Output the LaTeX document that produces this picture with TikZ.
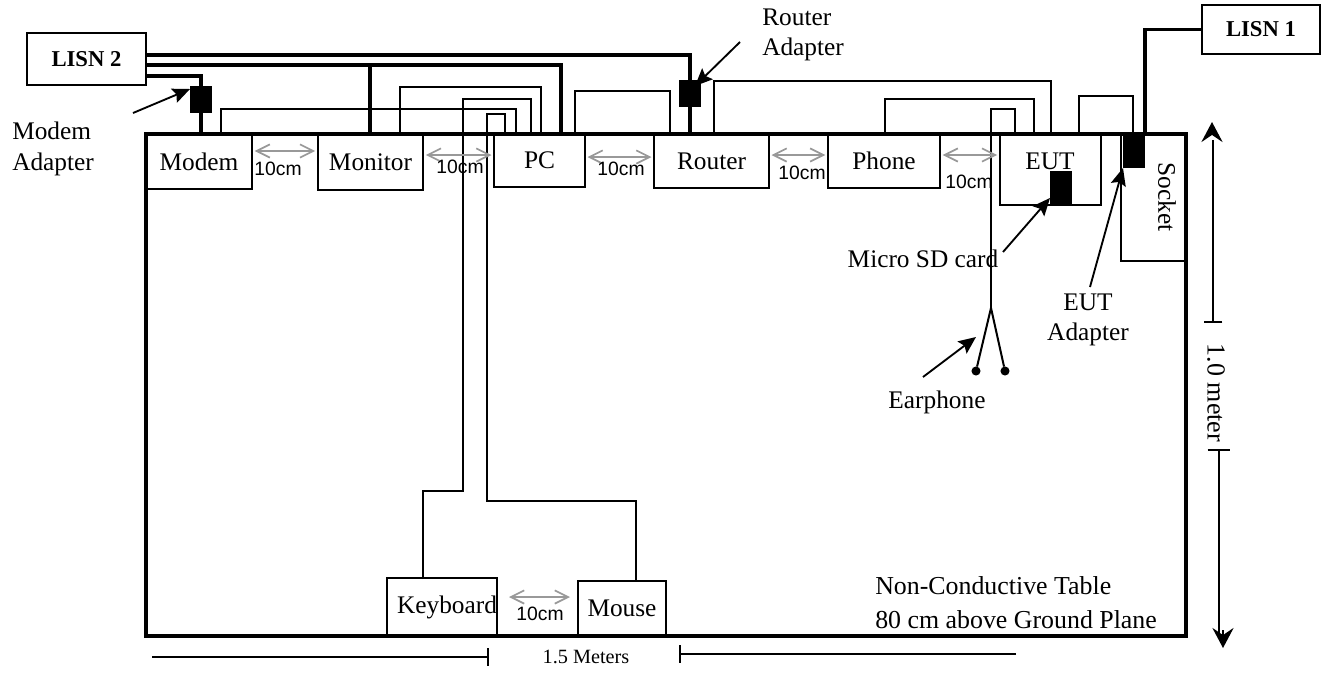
\documentclass[tikz,border=0pt]{standalone}
\usepackage{fontspec}
\setmainfont{Liberation Serif}
\setsansfont{Liberation Sans}
\usetikzlibrary{arrows.meta, positioning, calc}

\begin{document}
\begin{tikzpicture}[x=0.75pt, y=-0.75pt,
    box/.style={draw, line width=1.5pt, inner sep=0pt, outer sep=0pt, font=\fontsize{19}{19}\selectfont},
    lisn/.style={draw, line width=1.5pt, inner sep=0pt, outer sep=0pt, minimum width=89pt, font=\bfseries\fontsize{17}{17}\selectfont},
    adapter/.style={fill=black, inner sep=0pt, outer sep=0pt, minimum width=16.5pt},
    bud/.style={circle, fill=black, inner sep=0pt, outer sep=0pt, minimum size=6.8pt},
    lbl/.style={font=\fontsize{19}{23}\selectfont, align=left, inner sep=0pt},
    gap/.style={font=\sffamily\fontsize{14.5}{14.5}\selectfont, inner sep=0pt},
    wire/.style={line width=1.5pt},
    power/.style={line width=2.8pt},
    dim/.style={line width=1.4pt},
    span/.style={draw=black!40, line width=1.3pt, shorten <=2pt, shorten >=2pt, {Straight Barb[length=3.5mm,width=3.5mm]}-{Straight Barb[length=3.5mm,width=3.5mm]}},
    point/.style={line width=1.4pt, -{Stealth[length=4.6mm,width=4mm,inset=0.8mm]}},
    bighead/.style={-{Stealth[length=5.3mm,width=5.6mm,inset=1.9mm]}}]
  \useasboundingbox (0,0) rectangle (1329,672);

  % table
  \node[draw, line width=2.8pt, inner sep=0pt, outer sep=0pt, minimum width=780pt, minimum height=376.5pt] (tbl) at (666,385) {};

  % boxes along the top edge
  \node[box, minimum width=79.5pt, minimum height=41pt] (modem) at (199,161.5) {Modem};
  \node[box, minimum width=79pt, minimum height=42pt] (monitor) at (370.5,162) {Monitor};
  \node[box, minimum width=68pt, minimum height=40pt] (pc) at (539.5,160.5) {PC};
  \node[box, minimum width=86pt, minimum height=41pt] (router) at (711.5,161) {Router};
  \node[box, minimum width=84pt, minimum height=41pt] (phone) at (884,161) {Phone};
  \node[box, minimum width=76pt, minimum height=53.5pt] (eut) at (1050.5,169.5) {};
  \node[lbl] (euttxt) at (1050,161) {EUT};
  \node[box, minimum width=82.5pt, minimum height=43pt] (keyboard) at (442,607) {\hspace{7.5pt}Keyboard};
  \node[box, minimum width=66pt, minimum height=41pt] (mouse) at (622,608.5) {Mouse};

  \node[lisn, minimum height=39pt] (lisntwo) at (86.5,59) {LISN 2\hspace{4.5pt}};
  \node[lisn, minimum height=37pt] (lisnone) at (1261,29.5) {LISN 1};

  % adapters
  \node[adapter, minimum height=20pt] (modemad) at (201,99.5) {};
  \node[adapter, minimum height=20pt] (routerad) at (690,93.5) {};
  \node[adapter, minimum height=25.5pt] (sdcard) at (1061,188) {};
  \node[adapter, minimum height=25.5pt] (eutad) at (1134,151) {};

  % points on the table edge
  \foreach \name/\px in {tapa/221, tapb/370, tapc/400, tapd/505, tape/516, tapf/531, tapg/541, taph/561, tapi/575,
      tapj/670, tapk/714, tapl/885, tapm/1015, tapn/1034, tapo/1051, tapp/1079, tapq/1133, tapr/1121}
    \coordinate (\name) at (\px,134);

  % mains leads
  \draw[power] (lisntwo.east |- 0,55) -| (690,134);
  \draw[power] (lisntwo.east |- 0,65) -| (taph);
  \draw[power] (370,65) -- (tapb);
  \draw[power] (lisntwo.east |- 0,76) -| (modemad.north);
  \draw[power] (modemad.south) -- (201,134);
  \draw[power] (1145,134) |- (lisnone.west);

  % signal leads
  \draw[wire] (tapa) |- (221,109) -| (tape);
  \draw[wire] (tapc) |- (400,87) -| (tapg);
  \draw[wire] (423,579) |- (463,491) |- (463,99) -| (tapf);
  \draw[wire] (636,581) |- (487,501) |- (487,114) -| (tapd);
  \draw[wire] (tapi) |- (575,91) -| (tapj);
  \draw[wire] (tapk) |- (714,81) -| (tapo);
  \draw[wire] (tapl) |- (885,99) -| (tapn);
  \draw[wire] (tapp) |- (1079,96) -| (tapq);
  \draw[wire] (tapr) |- (tbl.east |- 0,261);

  % earphone
  \node[bud] (buda) at (976,371) {};
  \node[bud] (budb) at (1005,371) {};
  \coordinate (fork) at (991,308);
  \draw[wire] (tapm) |- (991,109) -- (fork);
  \draw[wire] (buda) -- (fork) -- (budb);

  % spacing arrows
  \draw[span] (modem.east |- 0,151) -- (monitor.west |- 0,151);
  \draw[span] (monitor.east |- 0,155) -- (pc.west |- 0,155);
  \draw[span] (pc.east |- 0,157) -- (router.west |- 0,157);
  \draw[span] (router.east |- 0,155) -- (phone.west |- 0,155);
  \draw[span] (phone.east |- 0,155) -- (eut.west |- 0,155);
  \draw[span, shorten <=9pt, shorten >=6pt] (keyboard.east |- 0,597) -- (mouse.west |- 0,597);
  \node[gap] (gapa) at (278,169) {10cm};
  \node[gap] (gapb) at (460,167) {10cm};
  \node[gap] (gapc) at (621,169) {10cm};
  \node[gap] (gapd) at (802,173) {10cm};
  \node[gap] (gape) at (969,182) {10cm};
  \node[gap] (gapf) at (540,614) {10cm};

  % labels
  \node[lbl, anchor=west] (modemtxt) at (12,149) {Modem\\Adapter};
  \node[lbl, anchor=west] (routertxt) at (762,35) {Router\\Adapter};
  \node[lbl, align=center] (euttxtb) at (1088,320) {EUT\\Adapter};
  \node[lbl] (sdtxt) at (923,259) {Micro SD card};
  \node[lbl] (earpiece) at (937,402) {Earphone};
  \node[lbl, rotate=-90] (sockettxt) at (1167,197) {Socket};
  \node[lbl, anchor=west, font=\fontsize{19.4}{25.5}\selectfont] (tabletxt) at (875,603) {Non-Conductive Table\\80 cm above Ground Plane};

  \draw[point] (133,113) -- (modemad.west |- 0,89);
  \draw[point] (740,42) -- (695,86);
  \draw[point] (1003,252) -- (sdcard.west |- 0,198);
  \draw[point] (1090,287) -- (eutad.west |- 0,168);
  \draw[point] (923,377) -- (976,337);

  % overall size
  \node[font=\fontsize{15.2}{15.2}\selectfont, inner sep=0pt] (widthtxt) at (586,657) {1.5 Meters};
  \node[lbl, rotate=-90, font=\fontsize{19.5}{23}\selectfont] (heighttxt) at (1216,393) {1.0 meter};
  \coordinate (wl) at (152,657);
  \coordinate (wr) at (1016,654);
  \draw[dim, -{Bar[width=4.6mm]}] (wl) -- (489,657);
  \draw[dim, -{Bar[width=4.6mm]}] (wr) -- (679,654);
  \coordinate (ht) at (1212,122);
  \coordinate (hb) at (1223,648);
  \draw[dim, -{Bar[width=5mm]}] (1213,140) -- (1213,323);
  \draw[dim, bighead] (1212,135) -- (ht);
  \draw[dim, -{Bar[width=6mm]}] (1219,636) -- (1219,449);
  \draw[dim, bighead] (1223,630) -- (hb);
\end{tikzpicture}
\end{document}
